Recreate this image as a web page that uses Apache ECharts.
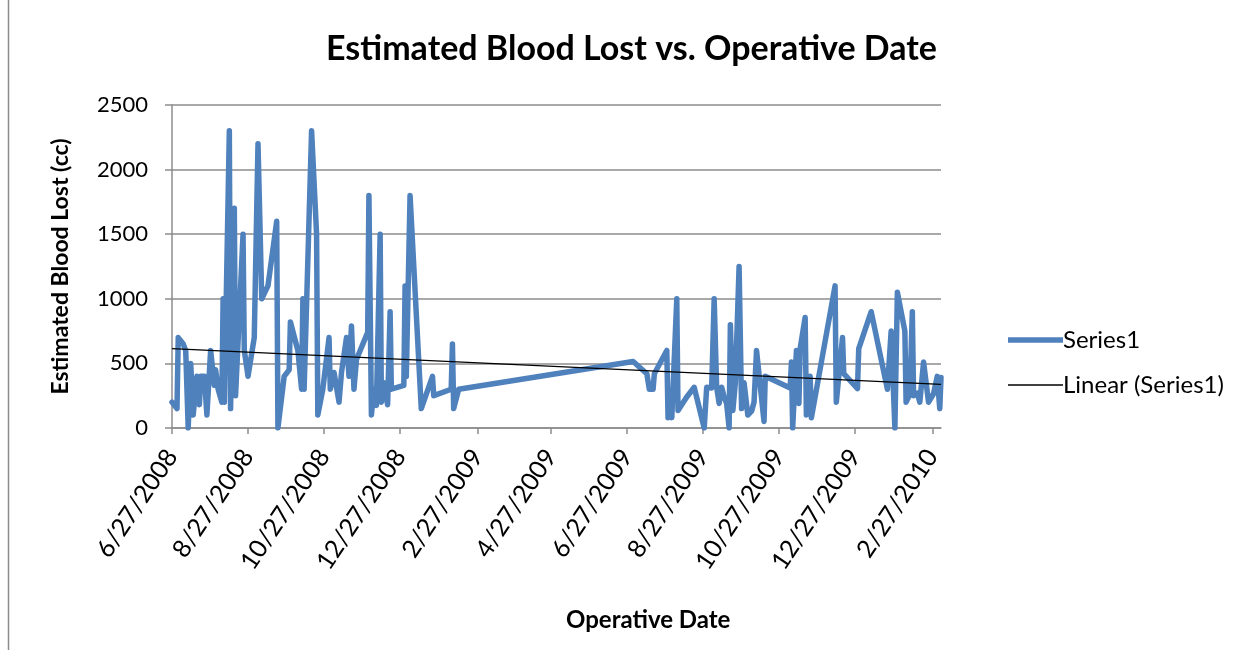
<!DOCTYPE html>
<html>
<head>
<meta charset="utf-8">
<script src="https://cdn.jsdelivr.net/npm/echarts@6/dist/echarts.min.js"></script>
<style>
  html, body { margin: 0; padding: 0; background: #fff; }
  #chart { width: 1255px; height: 650px; }
</style>
</head>
<body>
<div id="chart"></div>
<script>
// operative dates and estimated blood lost in cc
const opDates = [
  '2008-06-27', '2008-07-01', '2008-07-02', '2008-07-06', '2008-07-08', '2008-07-10', '2008-07-12', '2008-07-14',
  '2008-07-17', '2008-07-19', '2008-07-20', '2008-07-23', '2008-07-25', '2008-07-28', '2008-07-31', '2008-08-01',
  '2008-08-03', '2008-08-06', '2008-08-07', '2008-08-08', '2008-08-12', '2008-08-13', '2008-08-16', '2008-08-17',
  '2008-08-23', '2008-08-24', '2008-08-27', '2008-09-01', '2008-09-04', '2008-09-07', '2008-09-12', '2008-09-19',
  '2008-09-20', '2008-09-25', '2008-09-29', '2008-09-30', '2008-10-06', '2008-10-09', '2008-10-10', '2008-10-11',
  '2008-10-17', '2008-10-21', '2008-10-22', '2008-10-26', '2008-10-31', '2008-11-01', '2008-11-04', '2008-11-08',
  '2008-11-10', '2008-11-14', '2008-11-16', '2008-11-18', '2008-11-20', '2008-11-22', '2008-12-01', '2008-12-02',
  '2008-12-04', '2008-12-06', '2008-12-08', '2008-12-11', '2008-12-12', '2008-12-14', '2008-12-17', '2008-12-19',
  '2008-12-20', '2008-12-30', '2008-12-31', '2009-01-01', '2009-01-04', '2009-01-13', '2009-01-22', '2009-01-23',
  '2009-02-06', '2009-02-07', '2009-02-08', '2009-02-12', '2009-07-02', '2009-07-13', '2009-07-15', '2009-07-18',
  '2009-07-19', '2009-07-29', '2009-07-30', '2009-07-31', '2009-08-02', '2009-08-06', '2009-08-07', '2009-08-14',
  '2009-08-20', '2009-08-28', '2009-08-30', '2009-09-03', '2009-09-05', '2009-09-07', '2009-09-09', '2009-09-11',
  '2009-09-13', '2009-09-15', '2009-09-17', '2009-09-18', '2009-09-20', '2009-09-22', '2009-09-25', '2009-09-27',
  '2009-09-29', '2009-10-02', '2009-10-05', '2009-10-07', '2009-10-09', '2009-10-15', '2009-10-16', '2009-11-05',
  '2009-11-06', '2009-11-07', '2009-11-10', '2009-11-12', '2009-11-13', '2009-11-17', '2009-11-18', '2009-11-21',
  '2009-11-22', '2009-12-11', '2009-12-12', '2009-12-17', '2009-12-18', '2009-12-29', '2009-12-30', '2010-01-09',
  '2010-01-22', '2010-01-25', '2010-01-28', '2010-01-30', '2010-02-05', '2010-02-06', '2010-02-09', '2010-02-11',
  '2010-02-12', '2010-02-15', '2010-02-17', '2010-02-20', '2010-02-24', '2010-02-28', '2010-03-03', '2010-03-05',
  '2010-03-06'
];
const bloodLost = [
  200, 150, 700, 650, 600, 0, 500, 100,
  400, 180, 400, 400, 100, 600, 330, 450,
  300, 200, 1000, 200, 2300, 150, 1700, 250,
  1500, 600, 400, 700, 2200, 1000, 1100, 1600,
  0, 400, 450, 820, 600, 300, 1000, 300,
  2300, 1500, 100, 300, 700, 300, 430, 200,
  430, 700, 400, 790, 300, 530, 740, 1800,
  100, 300, 175, 1500, 200, 350, 180, 900,
  300, 330, 1100, 400, 1800, 150, 400, 250,
  300, 650, 150, 300, 515, 420, 300, 300,
  420, 600, 80, 190, 80, 1000, 135, 240,
  315, 0, 315, 310, 1000, 315, 190, 315,
  240, 190, 0, 800, 135, 350, 1250, 150,
  350, 100, 130, 200, 600, 50, 400, 310,
  510, 0, 600, 190, 615, 855, 100, 400,
  80, 1100, 200, 700, 420, 305, 615, 900,
  300, 750, 0, 1050, 750, 200, 260, 900,
  250, 270, 200, 510, 200, 265, 400, 150,
  390
];
// trend line ends as drawn in the picture
const trendEnds = [615, 338];
const tickDates = ['6/27/2008', '8/27/2008', '10/27/2008', '12/27/2008', '2/27/2009', '4/27/2009',
  '6/27/2009', '8/27/2009', '10/27/2009', '12/27/2009', '2/27/2010'];
const yTicks = [0, 500, 1000, 1500, 2000, 2500];

function isoTime(s) {
    const [y, m, d] = s.split('-').map(Number);
    return new Date(y, m - 1, d).getTime();
}
function mdyTime(s) {
    const [m, d, y] = s.split('/').map(Number);
    return new Date(y, m - 1, d).getTime();
}
function fmtMdy(v) {
    const d = new Date(v);
    return (d.getMonth() + 1) + '/' + d.getDate() + '/' + d.getFullYear();
}

const xs = opDates.map(isoTime);
const xMin = xs[0];
const xMax = xs[xs.length - 1];
const tickVals = tickDates.map(mdyTime);

const FONT = 'Lato';
const GRID_C = '#8c8c8c';

const chart = echarts.init(document.getElementById('chart'));
chart.setOption({
    backgroundColor: '#fff',
    animation: false,
    title: [{
        text: 'Estimated Blood Lost vs. Operative Date',
        left: 321,
        top: 27,
        textStyle: { fontFamily: FONT, fontSize: 34, fontWeight: 'bold', color: '#000' },
    }, {
        // Excel put the axis title off-centre, so it is placed by hand
        text: 'Operative Date',
        left: 561,
        top: 603,
        textStyle: { fontFamily: FONT, fontSize: 24, fontWeight: 'bold', color: '#000' },
    }],
    legend: {
        orient: 'vertical',
        left: 1003,
        top: 323,
        itemWidth: 55,
        itemHeight: 14,
        itemGap: 21,
        itemStyle: { borderWidth: 0 },
        textStyle: { fontFamily: FONT, fontSize: 24, color: '#000', padding: [0, 0, 0, -5] },
        data: [
            { name: 'Series1', icon: 'path://M0,0H55V5.5H0Z' },
            { name: 'Linear (Series1)', icon: 'path://M0,0H55V1.3H0Z' },
        ],
    },
    grid: { left: 172, right: 314, top: 105, bottom: 222 },
    xAxis: {
        // dates as timestamps on a value axis so ticks can sit on the 27th
        type: 'value',
        min: xMin,
        max: xMax,
        axisLine: { lineStyle: { color: GRID_C, width: 1.5 } },
        axisTick: { show: true, length: 6, customValues: tickVals, lineStyle: { color: GRID_C, width: 1.5 } },
        axisLabel: {
            customValues: tickVals,
            rotate: 56,
            margin: 24,
            fontFamily: FONT,
            fontSize: 25,
            color: '#000',
            formatter: v => fmtMdy(v),
        },
        splitLine: { show: false },
    },
    yAxis: {
        type: 'value',
        min: yTicks[0],
        max: yTicks[yTicks.length - 1],
        interval: 500,
        name: 'Estimated Blood Lost (cc)',
        nameLocation: 'middle',
        nameGap: 100,
        nameTextStyle: { fontFamily: FONT, fontSize: 23, fontWeight: 'bold', color: '#000' },
        axisLine: { show: true, lineStyle: { color: GRID_C, width: 1.5 } },
        axisTick: { show: true, length: 7, lineStyle: { color: GRID_C, width: 1.5 } },
        axisLabel: { fontFamily: FONT, fontSize: 22, color: '#000', margin: 24, formatter: v => String(v) },
        splitLine: { lineStyle: { color: GRID_C, width: 1.5 } },
    },
    graphic: [{
        type: 'line',
        shape: { x1: 8.5, y1: 0, x2: 8.5, y2: 650 },
        style: { stroke: '#8c8c8c', lineWidth: 1.5 },
        silent: true,
    }],
    series: [{
        name: 'Series1',
        type: 'line',
        data: xs.map((t, i) => [t, bloodLost[i]]),
        symbol: 'none',
        lineStyle: { color: '#4f81bd', width: 5.5, join: 'round', cap: 'round' },
        itemStyle: { color: '#4f81bd', borderWidth: 0 },
        z: 3,
    }, {
        name: 'Linear (Series1)',
        type: 'line',
        data: [[xMin, trendEnds[0]], [xMax, trendEnds[1]]],
        symbol: 'none',
        lineStyle: { color: '#000', width: 1.3 },
        itemStyle: { color: '#000', borderWidth: 0 },
        z: 4,
    }],
});
</script>
</body>
</html>
